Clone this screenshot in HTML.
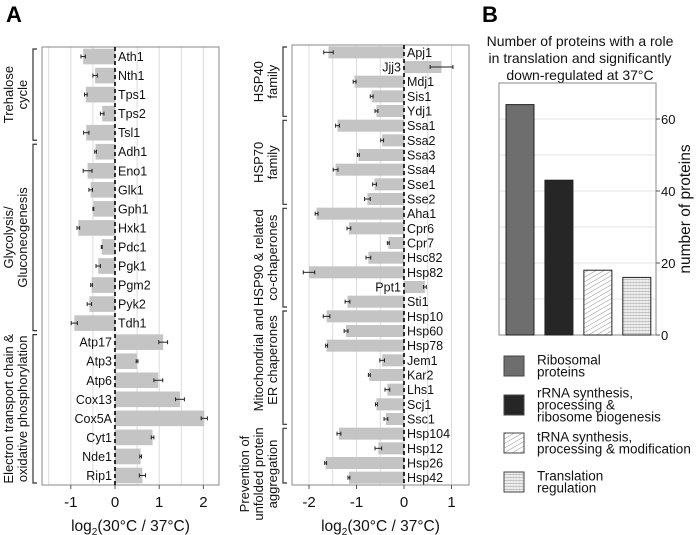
<!DOCTYPE html>
<html><head><meta charset="utf-8"><style>
body{margin:0;background:#fff}
svg{display:block;font-family:"Liberation Sans",Arial,sans-serif}
</style></head><body>
<svg id="fig" width="696" height="535" viewBox="0 0 696 535">
<defs>
<pattern id="hatch" width="4" height="4" patternUnits="userSpaceOnUse" patternTransform="rotate(-30)"><rect width="4" height="4" fill="#fff"/><line x1="0" y1="0" x2="4" y2="0" stroke="#777" stroke-width="0.8"/></pattern>
<pattern id="cross" width="3" height="3" patternUnits="userSpaceOnUse"><rect width="3" height="3" fill="#eee"/><line x1="0" y1="0" x2="3" y2="0" stroke="#777" stroke-width="0.7"/><line x1="0" y1="0" x2="0" y2="3" stroke="#bbb" stroke-width="0.5"/></pattern>
</defs>
<text x="6" y="22" font-size="22" font-weight="bold">A</text>
<text x="482" y="22" font-size="22" font-weight="bold">B</text>
<g id="leftPanel"></g>
<g id="rightPanel"></g>
<g id="panelB"></g>
</svg>
<script>
const leftGenes=["Ath1","Nth1","Tps1","Tps2","Tsl1","Adh1","Eno1","Glk1","Gph1","Hxk1","Pdc1","Pgk1","Pgm2","Pyk2","Tdh1","Atp17","Atp3","Atp6","Cox13","Cox5A","Cyt1","Nde1","Rip1"];
const leftValues=[-0.72,-0.45,-0.66,-0.29,-0.65,-0.44,-0.62,-0.55,-0.49,-0.83,-0.3,-0.38,-0.53,-0.58,-0.92,1.09,0.5,0.98,1.47,2.02,0.85,0.58,0.62];
const leftErrors=[0.05,0.05,0.03,0.04,0.06,0.02,0.1,0.04,0.01,0.03,0.01,0.05,0.02,0.05,0.07,0.1,0.02,0.1,0.1,0.07,0.03,0.02,0.07];
const leftTicks=[-1,0,1,2];
const rightGenes=["Apj1","Jjj3","Mdj1","Sis1","Ydj1","Ssa1","Ssa2","Ssa3","Ssa4","Sse1","Sse2","Aha1","Cpr6","Cpr7","Hsc82","Hsp82","Ppt1","Sti1","Hsp10","Hsp60","Hsp78","Jem1","Kar2","Lhs1","Scj1","Ssc1","Hsp104","Hsp12","Hsp26","Hsp42"];
const rightValues=[-1.59,0.79,-1.04,-0.68,-0.58,-1.4,-0.46,-0.96,-1.44,-0.62,-0.77,-1.84,-1.16,-0.33,-0.75,-2.0,0.44,-1.19,-1.63,-1.22,-1.63,-0.46,-0.73,-0.35,-0.58,-0.38,-1.37,-0.54,-1.65,-1.16];
const rightErrors=[0.1,0.24,0.03,0.03,0.03,0.04,0.03,0.02,0.05,0.04,0.06,0.03,0.04,0.02,0.05,0.12,0.03,0.05,0.07,0.04,0.02,0.05,0.02,0.05,0.02,0.04,0.04,0.07,0.02,0.02];
const rightTicks=[-2,-1,0,1];
const bCategories=["Ribosomal proteins","rRNA synthesis, processing & ribosome biogenesis","tRNA synthesis, processing & modification","Translation regulation"];
const bValues=[64,43,18,16];
const bTicks=[0,20,40,60];

const NS="http://www.w3.org/2000/svg";
function mk(parent,tag,attrs){const e=document.createElementNS(NS,tag);for(const k in attrs)e.setAttribute(k,attrs[k]);parent.appendChild(e);return e;}

function hbar(g,cfg){
  const {x0,x1,top,bot,zero,unit,genes,vals,errs,ticks,gmin,gmax,groups}=cfg;
  const xs=v=>zero+v*unit;
  const band=(bot-top)/genes.length;
  const ys=i=>top+band*(i+0.5);
  for(let v=gmin;v<=gmax+1e-9;v+=0.5){
    const gl=mk(g,"line",{x1:xs(v),x2:xs(v),y1:top,y2:bot,stroke:"#dcdcdc","stroke-width":1});
    
    
  }
  const box=mk(g,"rect",{x:x0,y:top,width:x1-x0,height:bot-top,fill:"none",stroke:"#8a8a8a","stroke-width":1});
  
  
  genes.forEach((name,i)=>{
    const v=vals[i],e=errs[i],y=ys(i),h=band*0.82;
    const b=mk(g,"rect",{x:Math.min(xs(0),xs(v)),y:y-h/2,width:Math.abs(xs(v)-xs(0)),height:h,fill:"#c4c4c4"});
    
    
    const eg=mk(g,"g",{stroke:"#222","stroke-width":1});
    
    
    mk(eg,"line",{x1:xs(v-e),x2:xs(v+e),y1:y,y2:y});
    mk(eg,"line",{x1:xs(v-e),x2:xs(v-e),y1:y-2,y2:y+2});
    mk(eg,"line",{x1:xs(v+e),x2:xs(v+e),y1:y-2,y2:y+2});
    const t=mk(g,"text",{x:v<0?xs(0)+3:xs(0)-3,y:y+4.5,"font-size":12.5,"text-anchor":v<0?"start":"end",fill:"#111"});
    t.textContent=name;
    
    
  });
  const zl=mk(g,"line",{x1:xs(0),x2:xs(0),y1:top,y2:bot,stroke:"#000","stroke-width":1.6,"stroke-dasharray":"4,3"});
  
  
  ticks.forEach(tv=>{
    mk(g,"line",{x1:xs(tv),x2:xs(tv),y1:bot,y2:bot+4,stroke:"#555"});
    const t=mk(g,"text",{x:xs(tv),y:bot+22,"font-size":15,"text-anchor":"middle",fill:"#111"});
    t.textContent=(tv<0?"-":"")+Math.abs(tv);
    
    
  });
  const at=mk(g,"text",{x:(x0+x1)/2,y:531,"font-size":15.5,"text-anchor":"middle",fill:"#111"});
  at.innerHTML='log<tspan font-size="10" dy="4">2</tspan><tspan dy="-4">(30°C / 37°C)</tspan>';
  
  
  groups.forEach(gr=>{
    const y1=top+band*gr.from+2,y2=top+band*gr.to-2,bx=cfg.bx;
    const p=mk(g,"path",{d:`M${bx+4},${y1}H${bx}V${y2}H${bx+4}`,fill:"none",stroke:"#333","stroke-width":1.2});
    
    
    const cy=gr.cy!==undefined?gr.cy:(y1+y2)/2;
    gr.lines.forEach((ln,k)=>{
      const lx=bx-6-(gr.lines.length-1-k)*14;
      const t=mk(g,"text",{x:lx,y:cy,"font-size":13,"text-anchor":"middle",transform:`rotate(-90 ${lx} ${cy})`,fill:"#111"});
      t.textContent=ln;
      
      
    });
  });
}
hbar(document.getElementById("leftPanel"),{x0:42,x1:219,top:47,bot:485,zero:115,unit:44.2,genes:leftGenes,vals:leftValues,errs:leftErrors,ticks:leftTicks,gmin:-1.5,gmax:2,bx:33,
 groups:[{from:0,to:5,lines:["Trehalose","cycle"]},{from:5,to:15,lines:["Glycolysis/","Gluconeogenesis"]},{from:15,to:23,lines:["Electron transport chain &","oxidative phosphorylation"]}]});
hbar(document.getElementById("rightPanel"),{x0:292,x1:469,top:45,bot:485,zero:404,unit:47.5,genes:rightGenes,vals:rightValues,errs:rightErrors,ticks:rightTicks,gmin:-2,gmax:1,bx:283,
 groups:[{from:0,to:5,lines:["HSP40","family"]},{from:5,to:11,lines:["HSP70","family"]},{from:11,to:18,lines:["HSP90 & related","co-chaperones"]},{from:18,to:26,lines:["Mitochondrial and","ER chaperones"],cy:360},{from:26,to:30,lines:["Prevention of","unfolded protein","aggregation"],cy:474}]});

// Panel B
(function(){
  const g=document.getElementById("panelB");
  const L=499,R=656,T=83,B=335,unit=3.6;
  const ys=v=>B-v*unit;
  ["Number of proteins with a role","in translation and significantly","down-regulated at 37°C"].forEach((s,i)=>{
    const t=mk(g,"text",{x:580,y:46+i*17,"font-size":14,"text-anchor":"middle",fill:"#111"});
    t.textContent=s;
    
    
  });
  [10,30,50].concat(bTicks).forEach(v=>{
    mk(g,"line",{x1:L,x2:R,y1:ys(v),y2:ys(v),stroke:"#e6e6e6"});
  });
  const box=mk(g,"rect",{x:L,y:T,width:R-L,height:B-T,fill:"none",stroke:"#8a8a8a"});
  
  
  const fills=["#6e6e6e","#262626","url(#hatch)","url(#cross)"];
  const bw=28,slot=(R-L)/4;
  bValues.forEach((v,i)=>{
    const x=L+7+slot*i*0.992;
    const r=mk(g,"rect",{x:x,y:ys(v),width:bw,height:B-ys(v),fill:fills[i],stroke:"#222","stroke-width":1});
    
    
  });
  bTicks.forEach(v=>{
    mk(g,"line",{x1:R,x2:R+4,y1:ys(v),y2:ys(v),stroke:"#555"});
    const t=mk(g,"text",{x:R+5,y:ys(v)+5,"font-size":13,fill:"#111"});
    t.textContent=v;
    
    
  });
  const yt=mk(g,"text",{x:690,y:209,"font-size":15.5,"text-anchor":"middle",transform:"rotate(-90 690 209)",fill:"#111"});
  yt.textContent="number of proteins";
  
  
  const leg=[{y:356,lines:["Ribosomal","proteins"]},{y:395,lines:["rRNA synthesis,","processing &","ribosome biogenesis"]},{y:433,lines:["tRNA synthesis,","processing & modification"]},{y:472,lines:["Translation","regulation"]}];
  leg.forEach((l,i)=>{
    const eg=mk(g,"g",{});
    
    
    mk(eg,"rect",{x:504,y:l.y,width:20,height:20,fill:fills[i],stroke:"#444"});
    const n=l.lines.length;
    l.lines.forEach((s,k)=>{
      const t=mk(eg,"text",{x:537,y:l.y+10-(n-1)*6+k*12+4.5,"font-size":13.5,fill:"#111"});
      t.textContent=s;
    });
  });
})();
</script>
</body></html>
